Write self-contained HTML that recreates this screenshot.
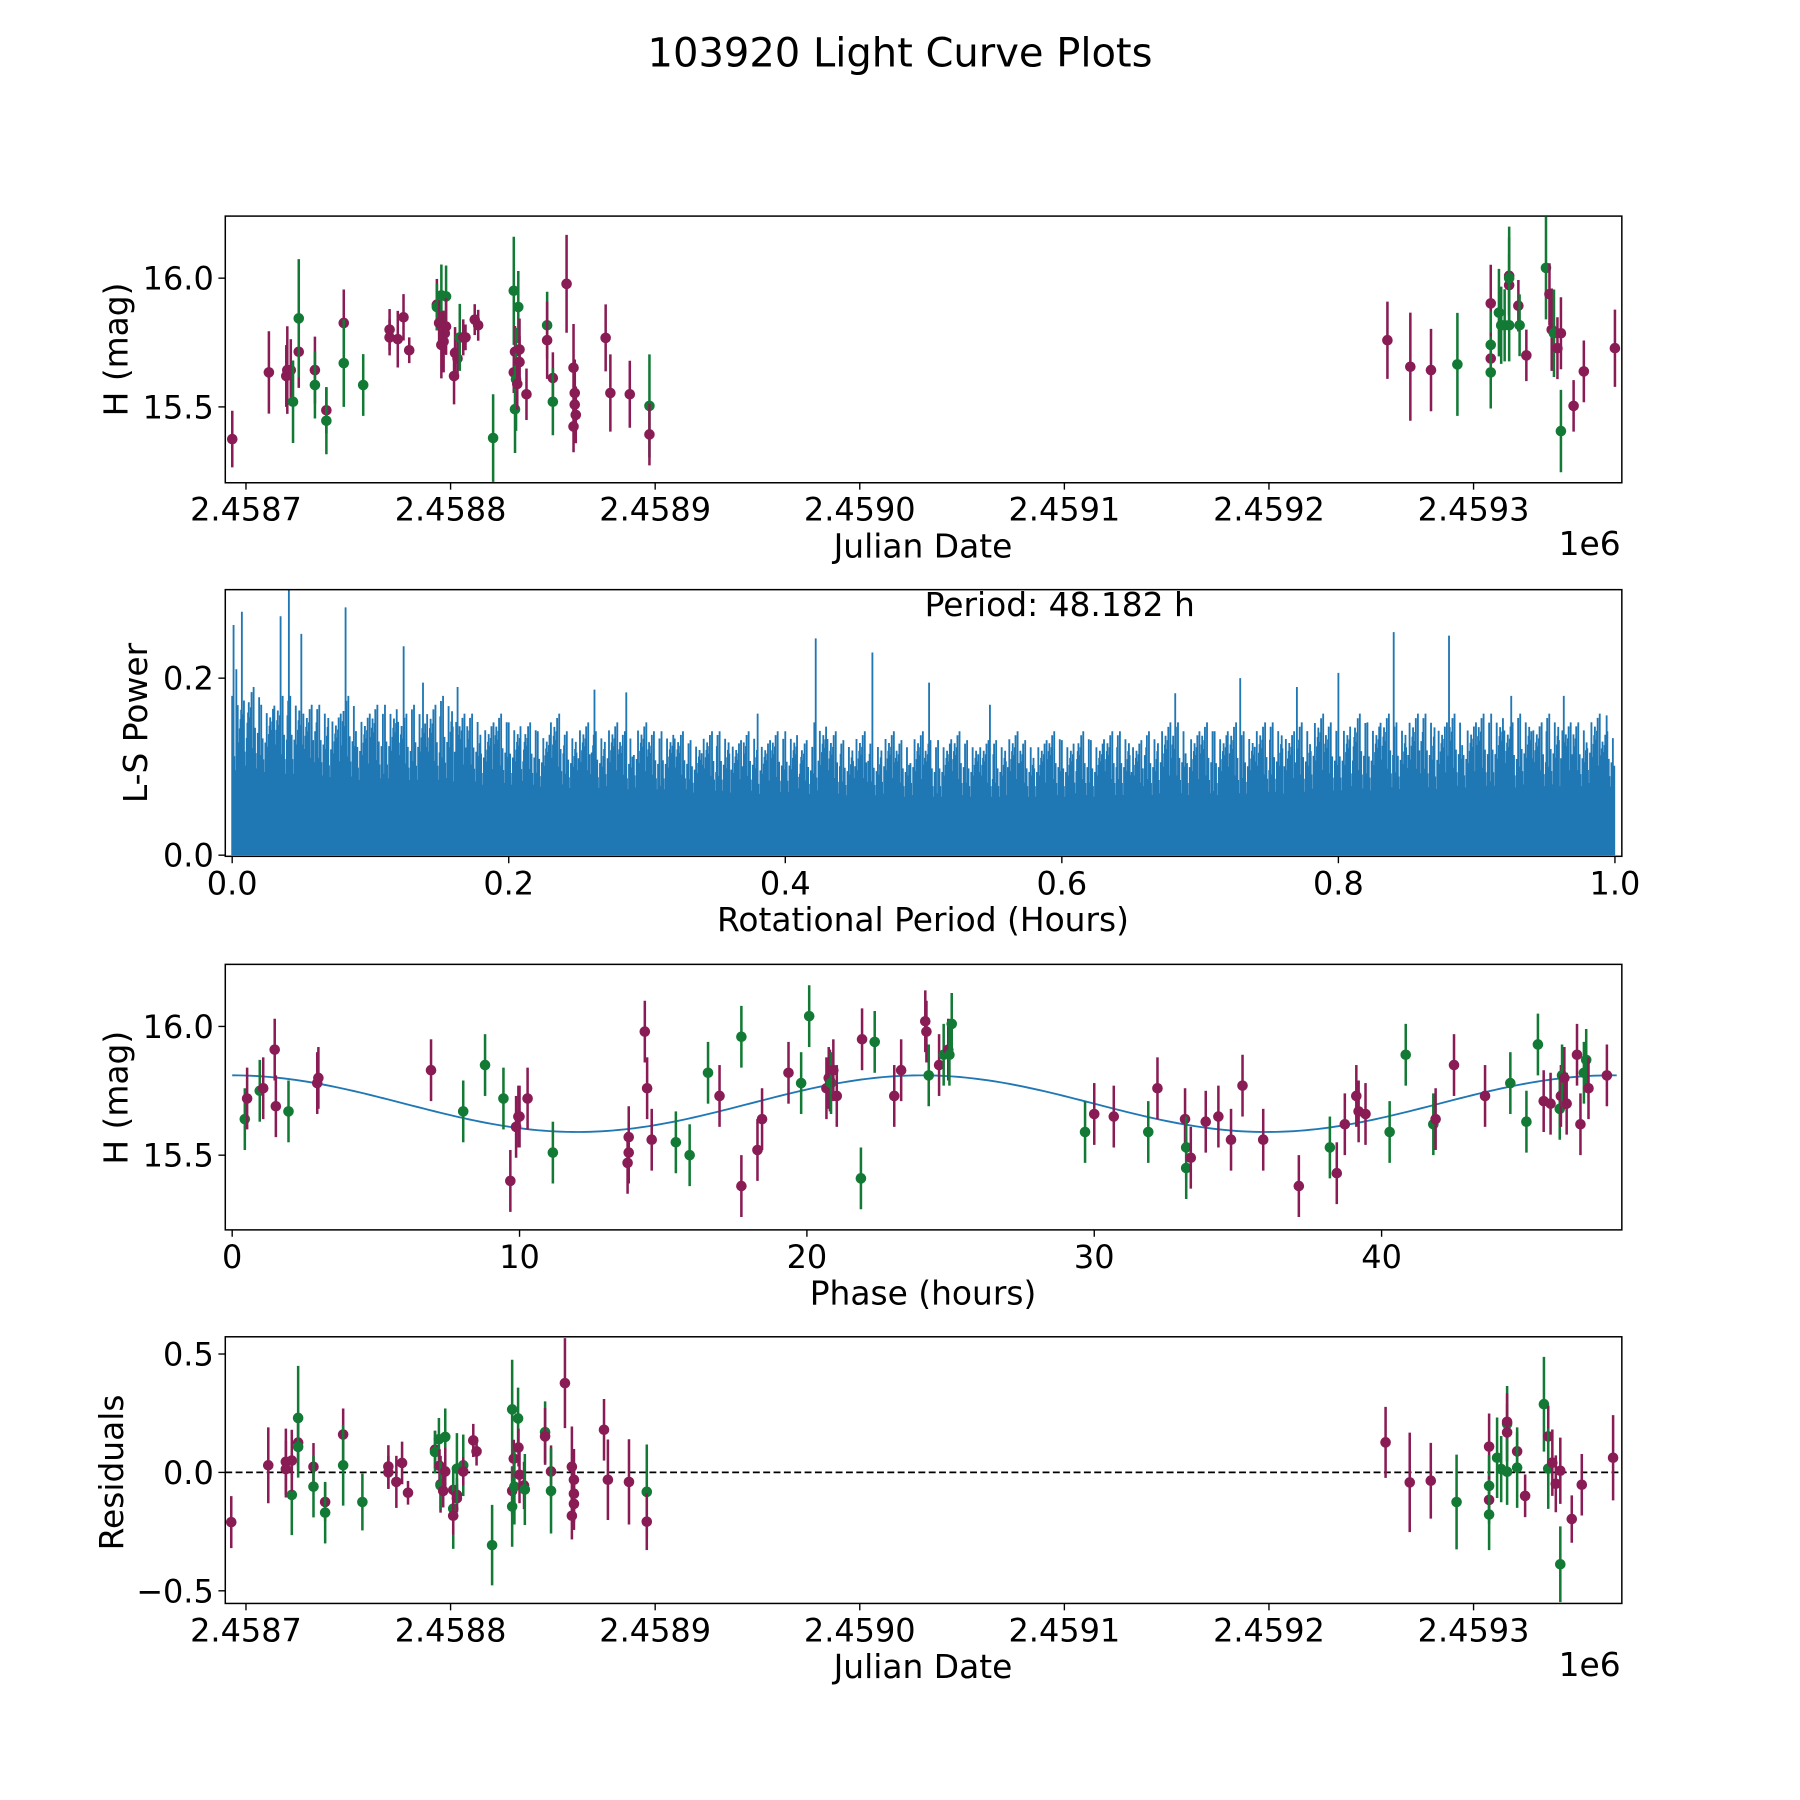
<!DOCTYPE html>
<html><head><meta charset="utf-8"><style>
html,body{margin:0;padding:0;background:#fff}
svg{display:block}
text{font-family:"DejaVu Sans","Liberation Sans",sans-serif;fill:#000}
</style></head><body>
<svg id="fig" width="1800" height="1800" viewBox="0 0 1566 1566" xmlns="http://www.w3.org/2000/svg">
<defs>
<clipPath id="c1"><rect x="196" y="188" width="1215" height="232"/></clipPath>
<clipPath id="c2"><rect x="196" y="513" width="1215" height="232"/></clipPath>
<clipPath id="c3"><rect x="196" y="839" width="1215" height="231"/></clipPath>
<clipPath id="c4"><rect x="196" y="1163" width="1215" height="232"/></clipPath>
</defs>
<text x="783" y="58" font-size="34.8" text-anchor="middle">103920 Light Curve Plots</text>
<g id="p1"></g>
<g id="p2"></g>
<g id="p3"></g>
<g id="p4"></g>
</svg>
<script>
const JD0 = 2458700;
const COLORS = {M:"#891c55", G:"#127a34"};
// light curve: [days since JD0, mag, err, band]
const lcPoints = [
[-6.7,15.375,.11,"M"],[11.2,15.634,.16,"M"],[19.7,15.62,.12,"M"],[20.2,15.643,.17,"M"],[21.9,15.643,.12,"M"],
[23,15.52,.16,"G"],[25.8,15.714,.14,"M"],[25.8,15.844,.23,"G"],[33.7,15.643,.13,"M"],[33.7,15.585,.13,"G"],
[39.3,15.487,.09,"M"],[39.3,15.446,.13,"G"],[47.8,15.826,.13,"M"],[47.8,15.67,.17,"G"],[57.3,15.585,.12,"G"],
[70.2,15.80,.08,"M"],[70.2,15.77,.07,"M"],[74.2,15.763,.11,"M"],[77,15.848,.09,"M"],[79.8,15.72,.05,"M"],
[93.3,15.897,.1,"M"],[93.3,15.888,.09,"G"],[94.4,15.826,.08,"M"],[95.5,15.933,.12,"G"],[95.5,15.741,.13,"M"],
[97.2,15.786,.08,"M"],[96.6,15.754,.12,"M"],[97.8,15.929,.12,"G"],[97.8,15.812,.11,"M"],
[101.7,15.62,.11,"M"],[102.2,15.71,.1,"M"],[103.4,15.688,.08,"M"],[104.5,15.77,.13,"G"],[106.2,15.77,.07,"M"],[107.3,15.77,.05,"M"],
[111.8,15.839,.06,"M"],[113.5,15.817,.06,"M"],[120.8,15.379,.17,"G"],
[130.9,15.951,.21,"G"],[130.9,15.634,.08,"M"],[131.5,15.714,.1,"M"],[131.5,15.491,.17,"G"],[132,15.607,.2,"G"],[132.6,15.589,.1,"M"],
[133.1,15.888,.14,"G"],[133.7,15.723,.12,"M"],[133.7,15.674,.1,"M"],[137.1,15.549,.1,"M"],
[147.2,15.817,.13,"G"],[147.2,15.759,.15,"M"],[150,15.612,.1,"M"],[150,15.52,.13,"G"],[156.7,15.978,.19,"M"],
[160.1,15.652,.17,"M"],[160.1,15.424,.1,"M"],[160.7,15.554,.13,"M"],[160.7,15.509,.12,"M"],[161.2,15.469,.11,"M"],
[175.8,15.768,.13,"M"],[178.1,15.554,.15,"M"],[187.6,15.549,.13,"M"],[197.2,15.504,.2,"G"],[197.2,15.393,.12,"M"],
[557.9,15.759,.15,"M"],[569.1,15.656,.21,"M"],[579.2,15.643,.16,"M"],[592.1,15.665,.2,"G"],
[608.4,15.902,.15,"M"],[608.4,15.741,.13,"G"],[608.4,15.688,.1,"M"],[608.4,15.634,.14,"G"],
[612.4,15.866,.17,"G"],[613.5,15.817,.15,"G"],[615.2,15.817,.14,"G"],[617.4,16.009,.15,"M"],[617.4,15.973,.12,"M"],
[617.4,15.817,.14,"G"],[617.4,16.0,.2,"G"],[621.9,15.893,.1,"M"],[622.5,15.817,.12,"G"],[625.8,15.70,.1,"M"],
[635.4,16.04,.2,"G"],[637.1,15.938,.12,"M"],[638.2,15.8,.16,"M"],[639.3,15.786,.17,"G"],[641,15.728,.12,"M"],
[642.7,15.786,.14,"M"],[642.7,15.406,.16,"G"],[648.9,15.504,.1,"M"],[653.9,15.638,.12,"M"],[669.1,15.728,.15,"M"]
];
// residuals: [days since JD0, residual, err, band]
const resPoints = [
[-7.2,-.21,.11,"M"],[10.9,.03,.16,"M"],[19.5,.045,.14,"M"],[19.5,.014,.12,"M"],[22.4,-.095,.17,"G"],[22.4,.05,.13,"M"],
[25.5,.23,.22,"G"],[25.5,.126,.1,"M"],[25.5,.108,.13,"G"],[33,.024,.1,"M"],[33,-.06,.13,"G"],[38.7,-.125,.08,"M"],[38.7,-.17,.13,"G"],
[47.5,.16,.11,"M"],[47.5,.03,.17,"G"],[56.9,-.125,.12,"G"],[69.6,.025,.09,"M"],[69.6,0,.07,"M"],[73.5,-.04,.11,"M"],[76.3,.04,.09,"M"],[79.2,-.086,.05,"M"],
[92.4,.096,.08,"M"],[92.4,.086,.09,"G"],[94.3,.14,.09,"G"],[94.6,.028,.07,"M"],[95.1,-.05,.12,"M"],[95.1,-.055,.1,"G"],[97.4,.15,.12,"G"],[97.4,.004,.1,"M"],[96.4,-.078,.07,"M"],
[101.3,-.074,.1,"M"],[101.3,-.153,.17,"G"],[101.3,-.183,.08,"M"],[103.1,-.095,.07,"M"],[103.1,-.109,.06,"M"],[103.1,.016,.15,"G"],[106.2,.03,.13,"G"],[106.2,.004,.06,"M"],
[111.1,.135,.07,"M"],[112.7,.089,.06,"M"],[120.3,-.307,.17,"G"],[130.1,.266,.21,"G"],[130.1,-.078,.1,"M"],[130.1,-.144,.17,"G"],[130.9,.058,.08,"M"],[131.2,-.06,.16,"G"],
[133,.228,.13,"G"],[133.2,.105,.08,"M"],[133.7,-.01,.12,"M"],[135.9,-.055,.1,"M"],[136.3,-.072,.15,"G"],
[146.2,.17,.13,"G"],[146.2,.152,.12,"M"],[149.1,.004,.11,"M"],[149.1,-.078,.18,"G"],[155.9,.377,.19,"M"],
[159.3,.024,.17,"M"],[159.3,-.183,.1,"M"],[160.3,-.031,.13,"M"],[160.3,-.09,.12,"M"],[160.3,-.133,.11,"M"],
[175,.18,.13,"M"],[176.9,-.031,.17,"M"],[187.2,-.04,.18,"M"],[195.9,-.082,.2,"G"],[195.9,-.208,.12,"M"],
[557,.127,.15,"M"],[568.8,-.042,.21,"M"],[579.1,-.035,.16,"M"],[591.7,-.125,.2,"G"],
[607.6,.109,.14,"M"],[607.6,-.057,.13,"G"],[607.6,-.116,.1,"M"],[607.6,-.178,.15,"G"],[611.5,.062,.17,"G"],[613.5,.014,.14,"G"],
[616.4,.205,.16,"G"],[616.4,.214,.12,"M"],[616.4,.169,.12,"M"],[616.4,.003,.14,"G"],[621.3,.089,.08,"M"],[621.3,.02,.17,"G"],[625.2,-.099,.09,"M"],
[634.4,.288,.2,"G"],[636.5,.152,.13,"M"],[636.5,.016,.17,"G"],[638.5,.041,.14,"M"],[640.2,-.048,.12,"M"],[642.4,.007,.14,"M"],[642.4,-.388,.16,"G"],
[648,-.197,.1,"M"],[652.9,-.052,.13,"M"],[668.2,.062,.18,"M"]
];
// phase-folded: [phase hours, mag, band]
const phasePoints = [
[.44,15.64,"G"],[.52,15.72,"M"],[.96,15.75,"G"],[1.08,15.76,"M"],[1.48,15.91,"M"],[1.52,15.69,"M"],[1.96,15.67,"G"],[2.96,15.78,"M"],[3.0,15.80,"M"],
[6.92,15.83,"M"],[8.04,15.67,"G"],[8.8,15.85,"G"],[9.44,15.72,"G"],[9.68,15.40,"M"],[9.88,15.61,"M"],[9.96,15.65,"M"],[10.0,15.65,"M"],[10.28,15.72,"M"],
[11.16,15.51,"G"],[13.76,15.47,"M"],[13.8,15.51,"M"],[13.8,15.57,"M"],[14.36,15.98,"M"],[14.44,15.76,"M"],[14.6,15.56,"M"],[15.44,15.55,"G"],[15.92,15.50,"G"],
[16.56,15.82,"G"],[16.96,15.73,"M"],[17.72,15.38,"M"],[17.72,15.96,"G"],[18.28,15.52,"M"],[18.44,15.64,"M"],[19.36,15.82,"M"],[19.8,15.78,"G"],[20.08,16.04,"G"],
[20.68,15.76,"M"],[20.76,15.80,"M"],[20.8,15.79,"M"],[20.84,15.78,"G"],[20.92,15.83,"M"],[21.04,15.73,"M"],[21.88,15.41,"G"],[21.92,15.95,"M"],[22.36,15.94,"G"],
[23.04,15.73,"M"],[23.28,15.83,"M"],[24.12,16.02,"M"],[24.16,15.98,"M"],[24.24,15.81,"G"],[24.6,15.85,"M"],[24.76,15.89,"G"],[24.92,15.91,"M"],[24.96,15.89,"G"],[25.04,16.01,"G"],
[29.68,15.59,"G"],[30.0,15.66,"M"],[30.68,15.65,"M"],[31.88,15.59,"G"],[32.2,15.76,"M"],[33.16,15.64,"M"],[33.2,15.53,"G"],[33.2,15.45,"G"],[33.36,15.49,"M"],
[33.88,15.63,"M"],[34.32,15.65,"M"],[34.76,15.56,"M"],[35.16,15.77,"M"],[35.88,15.56,"M"],[37.12,15.38,"M"],[38.2,15.53,"G"],[38.44,15.43,"M"],[38.72,15.62,"M"],
[39.12,15.73,"M"],[39.2,15.67,"M"],[39.44,15.66,"M"],[40.28,15.59,"G"],[40.84,15.89,"G"],[41.8,15.62,"G"],[41.88,15.64,"M"],[42.52,15.85,"M"],[43.6,15.73,"M"],
[44.48,15.78,"G"],[45.04,15.63,"G"],[45.44,15.93,"G"],[45.64,15.71,"M"],[45.88,15.70,"M"],[46.2,15.68,"G"],[46.24,15.73,"M"],[46.28,15.81,"G"],[46.36,15.80,"M"],
[46.44,15.70,"M"],[46.8,15.89,"M"],[46.92,15.62,"M"],[47.04,15.82,"G"],[47.12,15.87,"G"],[47.2,15.76,"M"],[47.84,15.81,"M"]
];
const phaseErr = 0.12;
const modelMean = 15.70, modelAmp = 0.11, modelPeriod = 24;
// periodogram: per-0.01 bin peak power and solid floor
const lsPeak = [.18,.19,.17,.18,.18,.17,.17,.16,.18,.16,.17,.17,.16,.17,.17,.18,.16,.16,.15,.16,
.15,.15,.14,.16,.14,.15,.14,.15,.14,.15,.14,.14,.14,.13,.14,.14,.13,.14,.13,.14,
.14,.13,.15,.14,.13,.14,.13,.14,.13,.14,.13,.13,.14,.13,.13,.13,.14,.13,.13,.14,
.13,.14,.13,.14,.14,.13,.14,.15,.15,.14,.15,.14,.15,.14,.15,.15,.14,.15,.16,.15,
.15,.16,.15,.16,.15,.16,.16,.15,.16,.15,.16,.16,.15,.16,.15,.16,.15,.15,.16,.14];
const lsFloor = [.075,.07,.066,.064,.062,.06,.058,.056,.054,.052,.05,.05,.05,.05,.05,.052,.054,.056,.058,.06,.062];
const lsSpikes = [[.001,.26],[.003,.21],[.007,.275],[.035,.27],[.041,.30],[.05,.25],[.082,.28],[.124,.236],[.138,.195],[.163,.19],
[.262,.187],[.285,.184],[.38,.16],[.422,.245],[.463,.229],[.504,.195],[.548,.17],[.682,.183],[.729,.20],[.77,.19],[.80,.206],[.84,.252],[.88,.248],[.925,.18],[.963,.18],[.994,.158]];
const lsTexture = [1,.3,.7,.15,.9,.45,.6,.1,.8,.35,.5,.95,.2,.65,.4,.05,.75,.25,.55,.85];
const jdTicks = [2458700,2458800,2458900,2459000,2459100,2459200,2459300];
const jdTickLabels = ["2.4587","2.4588","2.4589","2.4590","2.4591","2.4592","2.4593"];
const magTicks = [15.5,16.0], magTickLabels = ["15.5","16.0"];
const perTicks = [0,.2,.4,.6,.8,1.0], perTickLabels = ["0.0","0.2","0.4","0.6","0.8","1.0"];
const powTicks = [0,.2], powTickLabels = ["0.0","0.2"];
const phTicks = [0,10,20,30,40], phTickLabels = ["0","10","20","30","40"];
const resTicks = [-.5,0,.5], resTickLabels = ["\u22120.5","0.0","0.5"];

const NS="http://www.w3.org/2000/svg";
function mk(tag, attrs, parent){const e=document.createElementNS(NS,tag);for(const k in attrs)e.setAttribute(k,attrs[k]);parent.appendChild(e);return e;}
const xJD = d => 214 + d*1.78;
const xJDabs = jd => 214 + (jd-JD0)*1.78;
const yMag1 = m => 242 - (m-16)*224;
const xPer = p => 202 + p*1203;
const yPow = v => 744 - v*770;
const xPh = p => 202 + p*25;
const yMag3 = m => 893 - (m-16)*224;
const yRes = r => 1281 - r*206;

function frame(g, top, h){
  const r = mk('rect',{x:196,y:top,width:1215,height:h,fill:'none',stroke:'#000','stroke-width':1.3},g);
  
  
}
function xticks(g, vals, labels, fx, bottom, name){
  vals.forEach((v,i)=>{
    const x=fx(v);
    mk('line',{x1:x,y1:bottom,x2:x,y2:bottom+6,stroke:'#000','stroke-width':1.2},g);
    const t=mk('text',{x:x,y:bottom+33,'font-size':27.8,'text-anchor':'middle'},g);
    t.textContent=labels[i];
    
    
  });
}
function yticks(g, vals, labels, fy, name){
  vals.forEach((v,i)=>{
    const y=fy(v);
    mk('line',{x1:190,y1:y,x2:196,y2:y,stroke:'#000','stroke-width':1.2},g);
    const t=mk('text',{x:186,y:y+10,'font-size':27.8,'text-anchor':'end'},g);
    t.textContent=labels[i];
    
    
  });
}
function label(g, txt, x, y, rot, name){
  const t=mk('text',{x:x,y:y,'font-size':28.6,'text-anchor':'middle'},g);
  if(rot) t.setAttribute('transform','rotate(-90 '+x+' '+y+')');
  t.textContent=txt;
  
  
}
function errpoints(g, pts, fx, fy, clip, name){
  const cg=mk('g',{'clip-path':'url(#'+clip+')'},g);
  pts.forEach(p=>{
    const x=fx(p[0]), y=fy(p[1]), e=p[2], c=COLORS[p[3]];
    mk('line',{x1:x,y1:fy(p[1]-e),x2:x,y2:fy(p[1]+e),stroke:c,'stroke-width':2.2},cg);
    const d=mk('circle',{cx:x,cy:y,r:4.6,fill:c},cg);
    
    
  });
}

// Panel 1
const p1=document.getElementById('p1');
frame(p1,188,232);
errpoints(p1, lcPoints, xJD, yMag1, 'c1', 'light-curve-point');
xticks(p1, jdTicks, jdTickLabels, xJDabs, 420, 'x');
yticks(p1, magTicks, magTickLabels, yMag1, 'y');
label(p1,'Julian Date',803,485,false,'x-axis-title');
label(p1,'1e6',1383,483,false,'x-offset-label');
label(p1,'H (mag)',111,304,true,'y-axis-title');

// Panel 2
const p2=document.getElementById('p2');
const g2=mk('g',{'clip-path':'url(#c2)'},p2);
(function(){
  let d='M'+xPer(0)+','+yPow(0);
  lsFloor.forEach((v,i)=>{d+=' L'+xPer(i*0.05)+','+yPow(v);});
  d+=' L'+xPer(1)+','+yPow(0)+' Z';
  const f=mk('path',{d:d,fill:'#1f77b4'},g2);
  
  
  let s='';
  const sub=20;
  for(let i=0;i<lsPeak.length;i++){
    const fl=lsFloor[Math.min(20,Math.round(i/5))];
    for(let k=0;k<sub;k++){
      const p=(i+k/sub)/100;
      const v=fl+(lsPeak[i]-fl)*lsTexture[(k*3+i*7)%lsTexture.length];
      s+='M'+xPer(p).toFixed(2)+','+yPow(0)+'V'+yPow(v).toFixed(2);
    }
  }
  lsSpikes.forEach(p=>{s+='M'+xPer(p[0]).toFixed(2)+','+yPow(0)+'V'+yPow(p[1]).toFixed(2);});
  const l=mk('path',{d:s,stroke:'#1f77b4','stroke-width':1.6,fill:'none'},g2);
  
  
})();
frame(p2,513,232);
xticks(p2, perTicks, perTickLabels, xPer, 745, 'x');
yticks(p2, powTicks, powTickLabels, yPow, 'y');
label(p2,'Rotational Period (Hours)',803,810,false,'x-axis-title');
label(p2,'L-S Power',128,629,true,'y-axis-title');
label(p2,'Period: 48.182 h',922,536,false,'period-annotation');

// Panel 3
const p3=document.getElementById('p3');
const g3=mk('g',{'clip-path':'url(#c3)'},p3);
const ph3=phasePoints.map(p=>[p[0],p[1],phaseErr,p[2]]);
errpoints(p3, ph3, xPh, yMag3, 'c3', 'phase-point');
(function(){
  let d='';
  for(let i=0;i<=240;i++){
    const ph=i*48.182/240;
    const m=modelMean+modelAmp*Math.cos(2*Math.PI*ph/modelPeriod);
    d+=(i?'L':'M')+xPh(ph).toFixed(2)+','+yMag3(m).toFixed(2);
  }
  const c=mk('path',{d:d,stroke:'#1f77b4','stroke-width':1.6,fill:'none'},g3);
  
  
})();
frame(p3,839,231);
xticks(p3, phTicks, phTickLabels, xPh, 1070, 'x');
yticks(p3, magTicks, magTickLabels, yMag3, 'y');
label(p3,'Phase (hours)',803,1135,false,'x-axis-title');
label(p3,'H (mag)',111,955,true,'y-axis-title');

// Panel 4
const p4=document.getElementById('p4');
const zl=mk('line',{x1:196,y1:yRes(0),x2:1411,y2:yRes(0),stroke:'#000','stroke-width':1.5,'stroke-dasharray':'6,3'},p4);


errpoints(p4, resPoints, xJD, yRes, 'c4', 'residual-point');
frame(p4,1163,232);
xticks(p4, jdTicks, jdTickLabels, xJDabs, 1395, 'x');
yticks(p4, resTicks, resTickLabels, yRes, 'y');
label(p4,'Julian Date',803,1460,false,'x-axis-title');
label(p4,'1e6',1383,1458,false,'x-offset-label');
label(p4,'Residuals',107,1281,true,'y-axis-title');
</script>
</body></html>
